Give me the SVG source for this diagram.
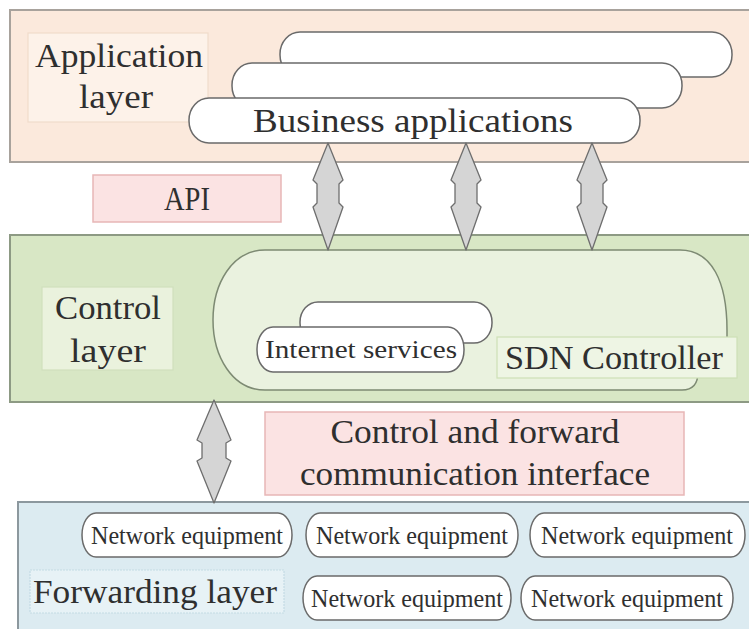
<svg xmlns="http://www.w3.org/2000/svg" width="749" height="629" viewBox="0 0 749 629">
  <style>
    .t { font-family: "Liberation Serif", "Times New Roman", serif; fill: #2f2f2f; text-anchor: middle; }
    .big { font-size: 33px; }
    .small { font-size: 25px; }
    .pill { fill: #ffffff; stroke: #6a6a6a; stroke-width: 1.5; }
    .arrow { fill: #d5d5d5; stroke: #6e6e6e; stroke-width: 1.3; stroke-linejoin: round; }
    .pinkbox { fill: #fbe3e3; stroke: #e7b6b6; stroke-width: 1.5; }
  </style>

  <rect width="749" height="629" fill="#ffffff"/>

  <!-- Application layer -->
  <g id="application-layer">
    <rect x="10" y="10" width="745" height="152" fill="#fbe9dc" stroke="#a8a29c" stroke-width="2"/>
    <rect x="28" y="33" width="180" height="89" fill="#fdf2e9" stroke="#f0dccb" stroke-width="1.2"/>
    <text class="t big" x="119" y="67" textLength="168" lengthAdjust="spacingAndGlyphs">Application</text>
    <text class="t big" x="116" y="108" textLength="74" lengthAdjust="spacingAndGlyphs">layer</text>
  </g>

  <g id="business-applications">
    <rect class="pill" x="280" y="32" width="452" height="45" rx="20" ry="22"/>
    <rect class="pill" x="232" y="63" width="450" height="45" rx="20" ry="22"/>
    <rect class="pill" x="189" y="98" width="451" height="45" rx="20" ry="22"/>
    <text class="t big" x="413" y="132" textLength="320" lengthAdjust="spacingAndGlyphs">Business applications</text>
  </g>

  <!-- API label -->
  <g id="api">
    <rect class="pinkbox" x="93" y="175" width="188" height="47"/>
    <text class="t big" x="187" y="210" textLength="46" lengthAdjust="spacingAndGlyphs">API</text>
  </g>

  <!-- Control layer -->
  <g id="control-layer">
    <rect x="10" y="235" width="745" height="167" fill="#d8e7c5" stroke="#8d9a84" stroke-width="2"/>
    <rect x="42" y="287" width="131" height="83" fill="#eaf2dd" stroke="#d0dfbd" stroke-width="1.2"/>
    <text class="t big" x="108" y="319" textLength="106" lengthAdjust="spacingAndGlyphs">Control</text>
    <text class="t big" x="108" y="362" textLength="76" lengthAdjust="spacingAndGlyphs">layer</text>
  </g>

  <g id="sdn-controller">
    <path d="M 265 250 H 680 C 712 250 727 282 727 330 L 727 340 L 698 372 Q 698 390 682 390 H 265 C 232 390 213 356 213 320 C 213 284 232 250 265 250 Z" fill="#eaf2df" stroke="#7d8a73" stroke-width="1.5"/>
    <rect x="497" y="337" width="240" height="41" fill="#eef5e4" stroke="#cde0b6" stroke-width="1.2"/>
    <text class="t big" x="614" y="369" textLength="218" lengthAdjust="spacingAndGlyphs">SDN Controller</text>
  </g>

  <g id="internet-services">
    <rect class="pill" x="300" y="302" width="192" height="41" rx="18" ry="20"/>
    <rect class="pill" x="257" y="327" width="207" height="45" rx="16" ry="22"/>
    <text class="t small" x="361" y="358" textLength="192" lengthAdjust="spacingAndGlyphs">Internet services</text>
  </g>

  <!-- Control and forward interface label -->
  <g id="cf-interface">
    <rect class="pinkbox" x="265" y="412" width="419" height="83"/>
    <text class="t big" x="475" y="443" textLength="289" lengthAdjust="spacingAndGlyphs">Control and forward</text>
    <text class="t big" x="475" y="485" textLength="350" lengthAdjust="spacingAndGlyphs">communication interface</text>
  </g>

  <!-- Forwarding layer -->
  <g id="forwarding-layer">
    <rect x="18" y="502" width="740" height="140" fill="#dcebf1" stroke="#8c989e" stroke-width="2"/>
    <rect x="30" y="570" width="254" height="43" fill="#e7f2f6" stroke="#c3dbe4" stroke-width="1.2" stroke-dasharray="2 1"/>
    <text class="t big" x="155" y="603" textLength="244" lengthAdjust="spacingAndGlyphs">Forwarding layer</text>
  </g>

  <g id="network-equipment">
    <rect class="pill" x="82" y="513" width="210" height="44" rx="14" ry="22"/>
    <rect class="pill" x="306" y="513" width="212" height="44" rx="14" ry="22"/>
    <rect class="pill" x="530" y="513" width="215" height="44" rx="14" ry="22"/>
    <rect class="pill" x="303" y="576" width="208" height="44" rx="14" ry="22"/>
    <rect class="pill" x="521" y="576" width="212" height="44" rx="14" ry="22"/>
    <text class="t small" x="187" y="544" textLength="192" lengthAdjust="spacingAndGlyphs">Network equipment</text>
    <text class="t small" x="412" y="544" textLength="192" lengthAdjust="spacingAndGlyphs">Network equipment</text>
    <text class="t small" x="637" y="544" textLength="192" lengthAdjust="spacingAndGlyphs">Network equipment</text>
    <text class="t small" x="407" y="607" textLength="192" lengthAdjust="spacingAndGlyphs">Network equipment</text>
    <text class="t small" x="627" y="607" textLength="192" lengthAdjust="spacingAndGlyphs">Network equipment</text>
  </g>

  <!-- Two-way arrows between layers -->
  <g id="connectors">
    <path class="arrow" d="M 328 143 L 343 180 L 339 184 L 339 203 L 343 207 L 328 250 L 313 207 L 317 203 L 317 184 L 313 180 Z"/>
    <path class="arrow" d="M 466 143 L 481 180 L 477 184 L 477 203 L 481 207 L 466 250 L 451 207 L 455 203 L 455 184 L 451 180 Z"/>
    <path class="arrow" d="M 592 143 L 607 180 L 603 184 L 603 203 L 607 207 L 592 250 L 577 207 L 581 203 L 581 184 L 577 180 Z"/>
    <path class="arrow" d="M 214 400 L 231 440 L 226 443 L 226 458 L 231 461 L 214 503 L 197 461 L 202 458 L 202 443 L 197 440 Z"/>
  </g>
</svg>
